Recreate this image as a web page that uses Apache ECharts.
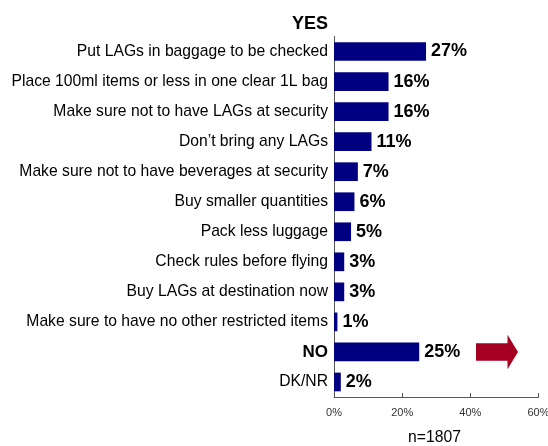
<!DOCTYPE html>
<html>
<head>
<meta charset="utf-8">
<script src="https://cdn.jsdelivr.net/npm/echarts@6/dist/echarts.min.js"></script>
<style>
  html, body { margin: 0; padding: 0; background: #fff; }
  #chart { width: 548px; height: 446px; }
</style>
</head>
<body>
<div id="chart"></div>
<script>
// Responses about liquids, aerosols and gels (LAGs), share of respondents
const categories = [
  'Put LAGs in baggage to be checked',
  'Place 100ml items or less in one clear 1L bag',
  'Make sure not to have LAGs at security',
  'Don\u2019t bring any LAGs',
  'Make sure not to have beverages at security',
  'Buy smaller quantities',
  'Pack less luggage',
  'Check rules before flying',
  'Buy LAGs at destination now',
  'Make sure to have no other restricted items',
  'NO',
  'DK/NR'
];
const values = [27, 16, 16, 11, 7, 6, 5, 3, 3, 1, 25, 2];
const xTicks = [0, 20, 40, 60];
const sampleNote = 'n=1807';
const groupHeading = 'YES';

const FONT = '"Liberation Sans", Arial, sans-serif';
const chart = echarts.init(document.getElementById('chart'));

const option = {
  animation: false,
  backgroundColor: '#ffffff',
  textStyle: { fontFamily: FONT },
  title: {
    text: groupHeading,
    right: 215,
    top: 10,
    textStyle: { fontFamily: FONT, fontSize: 18, fontWeight: 'bold', color: '#000' }
  },
  grid: {
    left: 334, right: 9.5, top: 36.5, bottom: 49,
    containLabel: false,
    outerBoundsMode: 'none'
  },
  xAxis: {
    type: 'value',
    min: xTicks[0],
    max: xTicks[xTicks.length - 1],
    interval: xTicks[1] - xTicks[0],
    axisLine: { show: true, lineStyle: { color: '#555', width: 1 } },
    axisTick: { show: true, inside: true, length: 4, lineStyle: { color: '#555' } },
    splitLine: { show: false },
    axisLabel: {
      formatter: '{value}%',
      fontFamily: FONT,
      fontSize: 11,
      color: '#333',
      margin: 10,
      hideOverlap: false
    }
  },
  yAxis: {
    type: 'category',
    inverse: true,
    data: categories,
    axisLine: { show: true, lineStyle: { color: '#555', width: 1 } },
    axisTick: { show: false },
    axisLabel: {
      margin: 6,
      fontFamily: FONT,
      fontSize: 15.7,
      color: '#000',
      formatter: function (v) {
        return v === 'NO' ? '{b|' + v + '}' : v;
      },
      rich: {
        b: { fontFamily: FONT, fontSize: 17, fontWeight: 'bold', color: '#000' }
      }
    }
  },
  series: [{
    type: 'bar',
    data: values,
    barWidth: 18.7,
    itemStyle: { color: '#000080' },
    label: {
      show: true,
      position: 'right',
      distance: 5,
      formatter: '{c}%',
      fontFamily: FONT,
      fontSize: 18,
      fontWeight: 'bold',
      color: '#000'
    }
  }]
};
chart.setOption(option);

// Red arrow next to the NO bar, and the sample-size note under the axis
const noIdx = categories.indexOf('NO');
const cy = chart.convertToPixel({ yAxisIndex: 0 }, noIdx);
const x0 = 476, xb = 507.5, xt = 518;
chart.setOption({
  graphic: [
    {
      type: 'polygon',
      shape: {
        points: [
          [x0, cy - 8.7], [xb, cy - 8.7], [xb, cy - 17.2], [xt, cy],
          [xb, cy + 17.2], [xb, cy + 8.7], [x0, cy + 8.7]
        ]
      },
      style: { fill: '#A50021' }
    },
    {
      type: 'text',
      x: 434.5,
      y: 437.5,
      style: {
        text: sampleNote,
        fontFamily: FONT,
        fontSize: 15.7,
        fill: '#000',
        textAlign: 'center',
        textVerticalAlign: 'middle'
      }
    }
  ]
});
</script>
</body>
</html>
